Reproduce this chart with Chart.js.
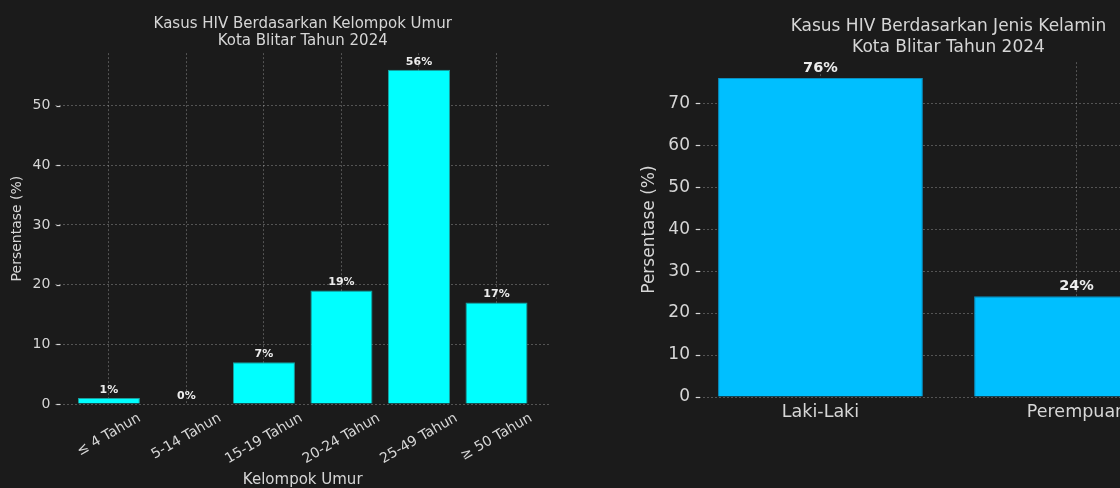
<!DOCTYPE html>
<html>
<head>
<meta charset="utf-8">
<script src="https://cdn.jsdelivr.net/npm/chart.js@4.4.1/dist/chart.umd.min.js"></script>
<style>
  html, body { margin: 0; padding: 0; width: 1120px; height: 488px; overflow: hidden; background: #1b1b1b; }
  #ageChart { position: absolute; left: 0; top: 0; }
  #sexChart { position: absolute; left: 600px; top: 0; }
</style>
</head>
<body>
<canvas id="ageChart" width="560" height="488"></canvas>
<canvas id="sexChart" width="650" height="488"></canvas>
<script>
// data
var ageLabels = ['≤ 4 Tahun', '5-14 Tahun', '15-19 Tahun', '20-24 Tahun', '25-49 Tahun', '≥ 50 Tahun'];
var agePercent = [1, 0, 7, 19, 56, 17];
var sexLabels = ['Laki-Laki', 'Perempuan'];
var sexPercent = [76, 24];
var ageTitle = ['Kasus HIV Berdasarkan Kelompok Umur', 'Kota Blitar Tahun 2024'];
var sexTitle = ['Kasus HIV Berdasarkan Jenis Kelamin', 'Kota Blitar Tahun 2024'];

var FONT = '"DejaVu Sans", Verdana, sans-serif';
var TXT = '#d6d6d6';
var GRID = 'rgba(255,255,255,0.25)';

function points(vals) {
  return vals.map(function (v, i) { return {x: i, y: v}; });
}

// percent text above each bar
var valueLabels = {
  id: 'valueLabels',
  afterDraw: function (chart, args, opts) {
    var ctx = chart.ctx;
    var meta = chart.getDatasetMeta(0);
    var data = chart.data.datasets[0].data;
    ctx.save();
    ctx.font = 'bold ' + opts.size + 'px ' + FONT;
    ctx.fillStyle = '#ececec';
    ctx.textAlign = 'center';
    ctx.textBaseline = 'bottom';
    meta.data.forEach(function (bar, i) {
      ctx.fillText(data[i].y + '%', bar.x, bar.y - opts.gap);
    });
    ctx.restore();
  }
};

// small tick marks just inside the left edge of the plot
var innerTicks = {
  id: 'innerTicks',
  afterDraw: function (chart) {
    var ctx = chart.ctx, ys = chart.scales.y, left = chart.chartArea.left;
    ctx.save();
    ctx.strokeStyle = TXT;
    ctx.lineWidth = 1.2;
    ys.ticks.forEach(function (t) {
      var y = Math.round(ys.getPixelForValue(t.value)) + 0.5;
      ctx.beginPath();
      ctx.moveTo(left + 1, y);
      ctx.lineTo(left + 5, y);
      ctx.stroke();
    });
    ctx.restore();
  }
};

// rotated tick labels centred under the ticks (like ha='center')
var slantedLabels = {
  id: 'slantedLabels',
  afterDraw: function (chart, args, opts) {
    var ctx = chart.ctx, xs = chart.scales.x;
    var ang = opts.angle * Math.PI / 180;
    ctx.save();
    ctx.font = opts.size + 'px ' + FONT;
    ctx.fillStyle = TXT;
    ctx.textAlign = 'center';
    ctx.textBaseline = 'middle';
    opts.labels.forEach(function (t, i) {
      var w = ctx.measureText(t).width;
      var bh = w * Math.sin(ang) + 0.75 * opts.size * Math.cos(ang);
      var x = xs.getPixelForValue(i);
      var y = chart.chartArea.bottom + opts.pad + bh / 2;
      ctx.save();
      ctx.translate(x, y);
      ctx.rotate(-ang);
      ctx.fillText(t, 0, 0);
      ctx.restore();
    });
    ctx.restore();
  }
};

new Chart(document.getElementById('ageChart'), {
  type: 'bar',
  data: {
    datasets: [{
      data: points(agePercent),
      backgroundColor: '#00ffff',
      borderColor: '#1a9e9e',
      borderWidth: 1,
      barPercentage: 1,
      categoryPercentage: 0.8
    }]
  },
  plugins: [valueLabels, innerTicks, slantedLabels],
  options: {
    responsive: false,
    animation: false,
    layout: { padding: { left: 0, right: 10, top: 0, bottom: 0 } },
    plugins: {
      legend: { display: false },
      tooltip: { enabled: false },
      title: {
        display: true, fullSize: false, text: ageTitle, color: TXT,
        font: { family: FONT, size: 15, weight: 'normal', lineHeight: 1.17 },
        padding: { top: 15, bottom: 3 }
      },
      valueLabels: { size: 11, gap: 2.5 },
      slantedLabels: { labels: ageLabels, angle: 30, size: 14, pad: 8.5 }
    },
    scales: {
      x: {
        type: 'linear', min: -0.69, max: 5.69, z: 1, offset: false,
        ticks: { display: false, stepSize: 1, includeBounds: false },
        grid: { color: GRID, drawTicks: false, tickLength: 0, offset: false },
        border: { display: false, dash: [2, 2] },
        title: { display: true, text: 'Kelompok Umur', color: TXT, font: { family: FONT, size: 15 }, padding: { top: 0, bottom: -1 } },
        afterFit: function (s) { s.height = 84; }
      },
      y: {
        min: 0, max: 58.8, z: 1,
        ticks: { stepSize: 10, includeBounds: false, color: TXT, padding: 5, font: { family: FONT, size: 14 } },
        grid: { color: GRID, drawTicks: false, tickLength: 0 },
        border: { display: false, dash: [2, 2] },
        title: { display: true, text: 'Persentase (%)', color: TXT, font: { family: FONT, size: 14 }, padding: { top: 8.6, bottom: 0 } },
        afterFit: function (s) { s.width = 55.4; }
      }
    }
  }
});

new Chart(document.getElementById('sexChart'), {
  type: 'bar',
  data: {
    datasets: [{
      data: points(sexPercent),
      backgroundColor: '#00bfff',
      borderColor: '#0a8fc0',
      borderWidth: 1,
      barPercentage: 1,
      categoryPercentage: 0.8
    }]
  },
  plugins: [valueLabels, innerTicks],
  options: {
    responsive: false,
    animation: false,
    layout: { padding: { left: 0, right: 48, top: 0, bottom: 0 } },
    plugins: {
      legend: { display: false },
      tooltip: { enabled: false },
      title: {
        display: true, fullSize: false, text: sexTitle, color: TXT,
        font: { family: FONT, size: 17, weight: 'normal', lineHeight: 1.25 },
        padding: { top: 16, bottom: 3.6 }
      },
      valueLabels: { size: 14.5, gap: 3 }
    },
    scales: {
      x: {
        type: 'linear', min: -0.49, max: 1.49, z: 1, offset: false,
        ticks: {
          stepSize: 1, includeBounds: false, color: TXT, padding: 5, maxRotation: 0,
          font: { family: FONT, size: 17.5 },
          callback: function (v) { return sexLabels[v]; }
        },
        grid: { color: GRID, drawTicks: false, tickLength: 0, offset: false },
        border: { display: false, dash: [2, 2] },
        afterFit: function (s) { s.height = 91; }
      },
      y: {
        min: 0, max: 79.8, z: 1,
        ticks: { stepSize: 10, includeBounds: false, color: TXT, padding: 5, font: { family: FONT, size: 17 } },
        grid: { color: GRID, drawTicks: false, tickLength: 0 },
        border: { display: false, dash: [2, 2] },
        title: { display: true, text: 'Persentase (%)', color: TXT, font: { family: FONT, size: 17 }, padding: { top: 39, bottom: 0 } },
        afterFit: function (s) { s.width = 95; }
      }
    }
  }
});
</script>
</body>
</html>
